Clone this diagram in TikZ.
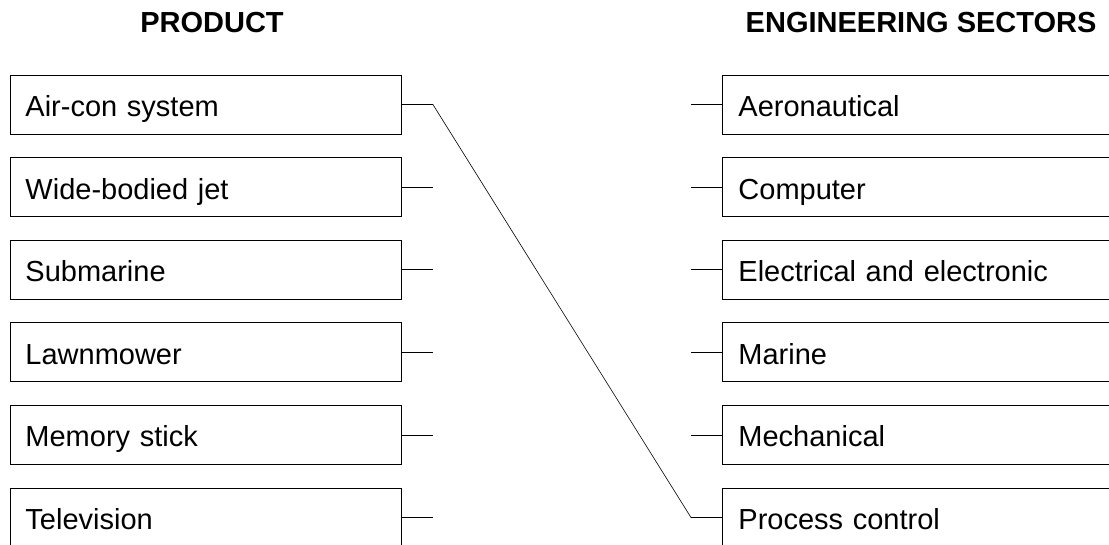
\documentclass[tikz,border=0pt]{standalone}
\usepackage{fontspec}
\setmainfont{Liberation Sans}
\usepackage{tikz}
\usetikzlibrary{
    positioning,           % Relative positioning
    calc                   % Coordinate calculations
}

\tikzset{
    itembox/.style={draw, line width=0.9pt, rectangle, inner xsep=15pt, inner ysep=0pt,
        minimum height=59pt, align=left, text height=27pt, text depth=3pt,
        font=\fontsize{29}{31}\selectfont},
    productbox/.style={itembox, text width=361pt, anchor=west},
    sectorbox/.style={itembox, text width=370pt, inner xsep=16pt, anchor=west},
    heading/.style={font=\fontsize{29}{31}\selectfont\bfseries},
    stub/.style={line width=0.6pt}
}

\begin{document}
\begin{tikzpicture}[x=1pt, y=-1pt]
    \useasboundingbox (0,0) rectangle (1109,545);

    % Headings
    \node[heading] (prodtitle) at (212,23) {PRODUCT};
    \node[heading, anchor=east] (sectitle) at (1100,23) {ENGINEERING SECTORS};

    % Products
    \node[productbox] (aircon) at (10,104.5) {Air-con system};
    \node[productbox] (jet)    at (10,187.1) {Wide-bodied jet};
    \node[productbox] (sub)    at (10,269.7) {Submarine};
    \node[productbox] (mower)  at (10,352.3) {Lawnmower};
    \node[productbox] (stick)  at (10,434.9) {Memory stick};
    \node[productbox] (tv)     at (10,517.5) {Television};

    % Sectors
    \node[sectorbox] (aero)    at (722,104.5) {Aeronautical};
    \node[sectorbox] (comp)    at (722,187.1) {Computer};
    \node[sectorbox] (elec)    at (722,269.7) {Electrical and electronic};
    \node[sectorbox] (marine)  at (722,352.3) {Marine};
    \node[sectorbox] (mech)    at (722,434.9) {Mechanical};
    \node[sectorbox] (process) at (722,517.5) {Process control};

    % Stub ends
    \coordinate (aircon-s) at ($(aircon.east)+(31,0)$);
    \coordinate (jet-s)    at ($(jet.east)+(31,0)$);
    \coordinate (sub-s)    at ($(sub.east)+(31,0)$);
    \coordinate (mower-s)  at ($(mower.east)+(31,0)$);
    \coordinate (stick-s)  at ($(stick.east)+(31,0)$);
    \coordinate (tv-s)     at ($(tv.east)+(31,0)$);
    \coordinate (aero-s)    at ($(aero.west)+(-31,0)$);
    \coordinate (comp-s)    at ($(comp.west)+(-31,0)$);
    \coordinate (elec-s)    at ($(elec.west)+(-31,0)$);
    \coordinate (marine-s)  at ($(marine.west)+(-31,0)$);
    \coordinate (mech-s)    at ($(mech.west)+(-31,0)$);
    \coordinate (process-s) at ($(process.west)+(-31,0)$);

    % Stubs
    \draw[stub] (jet.east) -- (jet-s);
    \draw[stub] (sub.east) -- (sub-s);
    \draw[stub] (mower.east) -- (mower-s);
    \draw[stub] (stick.east) -- (stick-s);
    \draw[stub] (tv.east) -- (tv-s);
    \draw[stub] (aero-s) -- (aero.west);
    \draw[stub] (comp-s) -- (comp.west);
    \draw[stub] (elec-s) -- (elec.west);
    \draw[stub] (marine-s) -- (marine.west);
    \draw[stub] (mech-s) -- (mech.west);

    % Matched pair
    \draw[stub] (aircon.east) -- (aircon-s) -- (process-s) -- (process.west);
\end{tikzpicture}
\end{document}
